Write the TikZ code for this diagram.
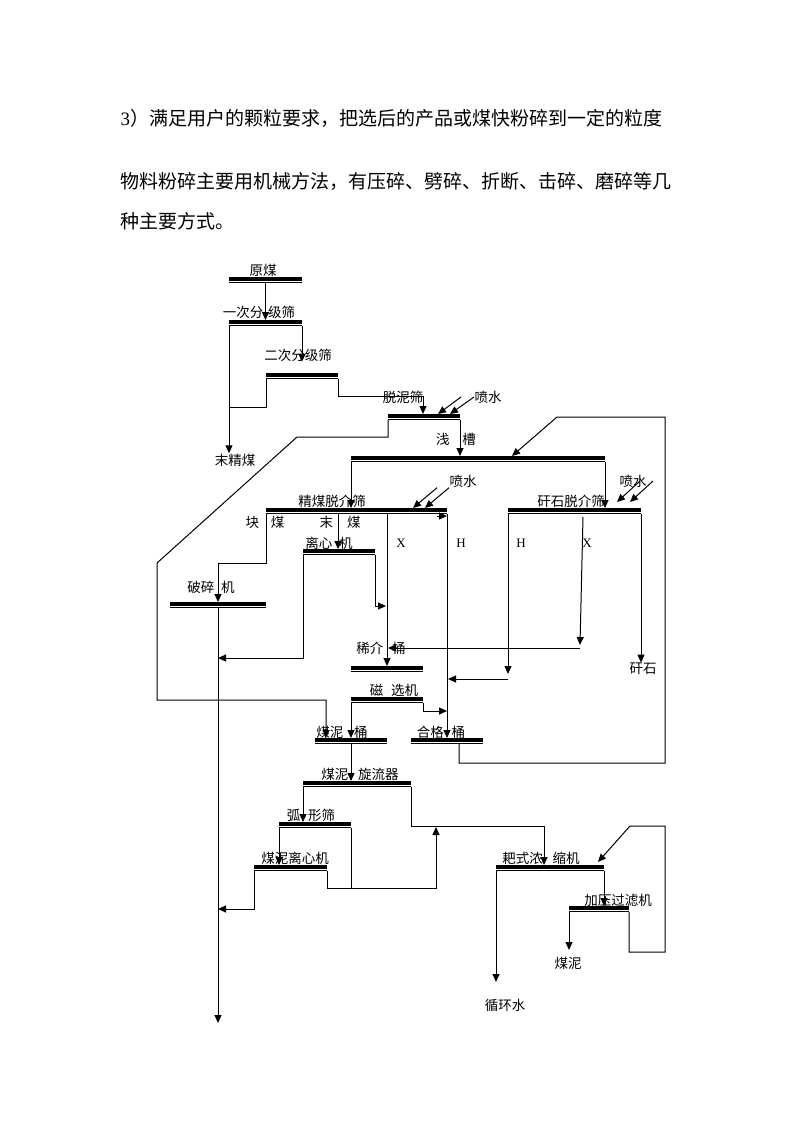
\documentclass[tikz,border=0pt]{standalone}
\usepackage{fontspec}
\setmainfont{Liberation Serif}
\newfontfamily\cjk{Noto Sans CJK SC}
\usetikzlibrary{arrows.meta}

\tikzset{
  bar/.style={anchor=north west, minimum height=6pt, inner sep=0pt, outer sep=0pt,
    path picture={
      \fill (path picture bounding box.north west) rectangle ([yshift=-3.6pt]path picture bounding box.north east);
      \draw[line width=1pt] ([yshift=0.5pt]path picture bounding box.south west) -- ([yshift=0.5pt]path picture bounding box.south east);
    }},
  lbl/.style={font=\cjk\fontsize{13.5}{15}\selectfont, inner sep=0pt},
  ltr/.style={font=\fontsize{13}{15}\selectfont, inner sep=0pt},
  txt/.style={font=\cjk\fontsize{19}{22}\selectfont, inner sep=0pt, anchor=west},
}

\begin{document}
\begin{tikzpicture}[x=1pt, y=-1pt, >={Triangle[length=8pt,width=7pt]}, line width=1pt]
\useasboundingbox (0,0) rectangle (800,1132);

\node[txt] (t1) at (120,118) {{\rmfamily 3}）满足用户的颗粒要求，把选后的产品或煤快粉碎到一定的粒度};
\node[txt] (t2) at (120,181) {物料粉碎主要用机械方法，有压碎、劈碎、折断、击碎、磨碎等几};
\node[txt] (t3) at (120,221) {种主要方式。};

\node[bar, minimum width=73pt] (ym) at (229,277) {};
\node[bar, minimum width=73pt] (fj1) at (229,320) {};
\node[bar, minimum width=72pt] (fj2) at (266,373) {};
\node[bar, minimum width=72pt] (tn) at (388,414) {};
\node[bar, minimum width=254pt] (qc) at (351,456) {};
\node[bar, minimum width=181pt] (jm) at (266,508) {};
\node[bar, minimum width=133pt] (gs) at (508,508) {};
\node[bar, minimum width=72pt] (lx) at (303,549) {};
\node[bar, minimum width=96pt] (ps) at (170,602) {};
\node[bar, minimum width=72pt] (xj) at (351,666) {};
\node[bar, minimum width=72pt] (cx) at (351,697) {};
\node[bar, minimum width=72pt] (mt) at (315,738) {};
\node[bar, minimum width=72pt] (hg) at (411,738) {};
\node[bar, minimum width=108pt] (xl) at (303,781) {};
\node[bar, minimum width=72pt] (hx) at (279,822) {};
\node[bar, minimum width=73pt] (mlx) at (254,865) {};
\node[bar, minimum width=108pt] (nj) at (496,865) {};
\node[bar, minimum width=60pt] (gl) at (569,906) {};

\node[lbl] (ym-l) at (263,270) {原煤};
\node[lbl] (fj1-l) at (259,312) {一次分\hspace{5pt}级筛};
\node[lbl] (fj2-l) at (298,355) {二次分级筛};
\node[lbl] (tn-l) at (403,397) {脱泥筛};
\node[lbl] (psa) at (488,397) {喷水};
\node[lbl] (qc-l) at (456,439) {浅\hspace{13pt}槽};
\node[lbl] (mjm) at (235,460) {末精煤};
\node[lbl] (jm-l) at (332,501) {精煤脱介筛};
\node[lbl] (psb) at (463,481) {喷水};
\node[lbl] (gs-l) at (571,501) {矸石脱介筛};
\node[lbl] (psc) at (633,481) {喷水};
\node[lbl] (km) at (265,522) {块\hspace{12pt}煤};
\node[lbl] (mm) at (340,522) {末\hspace{14pt}煤};
\node[ltr] (x1) at (401,543) {X};
\node[ltr] (h1) at (461,543) {H};
\node[ltr] (h2) at (521,543) {H};
\node[ltr] (x2) at (587,543) {X};
\node[lbl] (lx-l) at (329,543) {离心\hspace{7pt}机};
\node[lbl] (ps-l) at (211,587) {破碎\hspace{7pt}机};
\node[lbl] (xj-l) at (381,648) {稀介\hspace{9pt}桶};
\node[lbl] (gsh) at (643,669) {矸石};
\node[lbl] (cx-l) at (394,690) {磁\hspace{8pt}选机};
\node[lbl] (mt-l) at (342,732) {煤泥\hspace{11pt}桶};
\node[lbl] (hg-l) at (441,732) {合格\hspace{8pt}桶};
\node[lbl] (xl-l) at (360,774) {煤泥\hspace{10pt}旋流器};
\node[lbl] (hx-l) at (311,815) {弧\hspace{8pt}形筛};
\node[lbl] (mlx-l) at (295,858) {煤泥离心机};
\node[lbl] (nj-l) at (541,858) {耙式浓\hspace{10pt}缩机};
\node[lbl] (gl-l) at (618,900) {加压过滤机};
\node[lbl] (mn) at (568,963) {煤泥};
\node[lbl] (xhs) at (505,1005) {循环水};

\draw[->] (ym.south) -- (ym.south |- fj1.north);
\draw[->] (fj1.south east) -- (fj1.south east |- fj2-l.south);
\draw[->] (fj1.south west) -- (fj1.south west |- mjm.north);
\draw (fj2.south west) -- ++(0,28) -- ++(-37,0);
\draw[->] (fj2.south east) -- ++(0,17) -| ([xshift=35pt]tn.north west);
\draw[->] ([xshift=-13pt]psa.west) -- ([xshift=50pt]tn.north west);
\draw[->] (psa.west) -- ([xshift=62pt]tn.north west);

\draw[->] (tn.south west) -- ++(0,17) -- ++(-91,0) -- ++(-140,126) -- ++(0,137) -| ([xshift=11pt]mt.north west);
\draw[->] (tn.south east) -- (tn.south east |- qc.north);
\draw[->] ([xshift=48pt]hg.south west) -- ++(0,19) -- ++(206,0) -- ++(0,-346) -- ++(-108,0) -- ([xshift=161pt]qc.north west);

\draw[->] (qc.south west) -- (qc.south west |- jm.north);
\draw[->] (qc.south east) -- (qc.south east |- gs.north);
\draw[->] ([xshift=-12pt]psb.south west) -- ([xshift=147pt]jm.north west);
\draw[->] (psb.south west) -- ([xshift=159pt]jm.north west);
\draw[->] ([xshift=7pt]psc.center) -- ++(-23,21);
\draw[->] ([xshift=20pt]psc.center) -- ++(-23,21);

\draw[->] (jm.south east) ++(-10,2) -- ++(10,0);
\draw[->] (jm.south east) -- (jm.south east |- hg.north);
\draw[->] (gs.south west) -- ++(0,160);
\draw[->] (gs.south west) ++(0,165) -- ++(-60,0);
\draw[->] (cx.south east) -- ++(0,8) -- ++(24,0);
\draw[->] ([xshift=121pt]jm.south west) -- ([xshift=36pt]xj.north west);
\draw[->] (lx.south east) -- ++(0,51) -- ++(11,0);
\draw[->] ([xshift=75pt]gs.south west) ++(0,3) -- ++(-3,128);
\draw[->] ([xshift=72pt]gs.south west) ++(0,134) -- ++(-192,0);
\draw[->] (gs.south east) -- (gs.south east |- gsh.north);

\draw[->] ([xshift=72pt]jm.south west) -- ([xshift=35pt]lx.north west);
\draw[->] (jm.south west) -- ++(0,49) -| (ps.north);
\draw[->] (ps.south) -- ++(0,415);
\draw[->] (lx.south west) -- ++(0,103) -- ++(-85,0);
\draw[->] (mlx.south west) -- ++(0,38) -- ++(-36,0);

\draw[->] (cx.south west) -- (mt.north);
\draw[->] (mt.south) -- (mt.south |- xl.north);
\draw[->] (xl.south west) -- (xl.south west |- hx.north);
\draw[->] (xl.south east) -- ++(0,39) -| ([xshift=48pt]nj.north west);
\draw[->] (hx.south west) -- (hx.south west |- mlx.north);
\draw (hx.south east) -- ++(0,60);
\draw[->] (mlx.south east) -- ++(0,17) -- ++(109,0) -- ++(0,-61);

\draw[->] (nj.south west) -- ++(0,111);
\draw[->] (nj.south east) -- (nj.south east |- gl.north);
\draw[->] (gl.south west) -- ++(0,38);
\draw[->] (gl.south east) -- ++(0,40) -- ++(36,0) -- ++(0,-126) -- ++(-35,0) -- ++(-32,36);

\end{tikzpicture}
\end{document}
